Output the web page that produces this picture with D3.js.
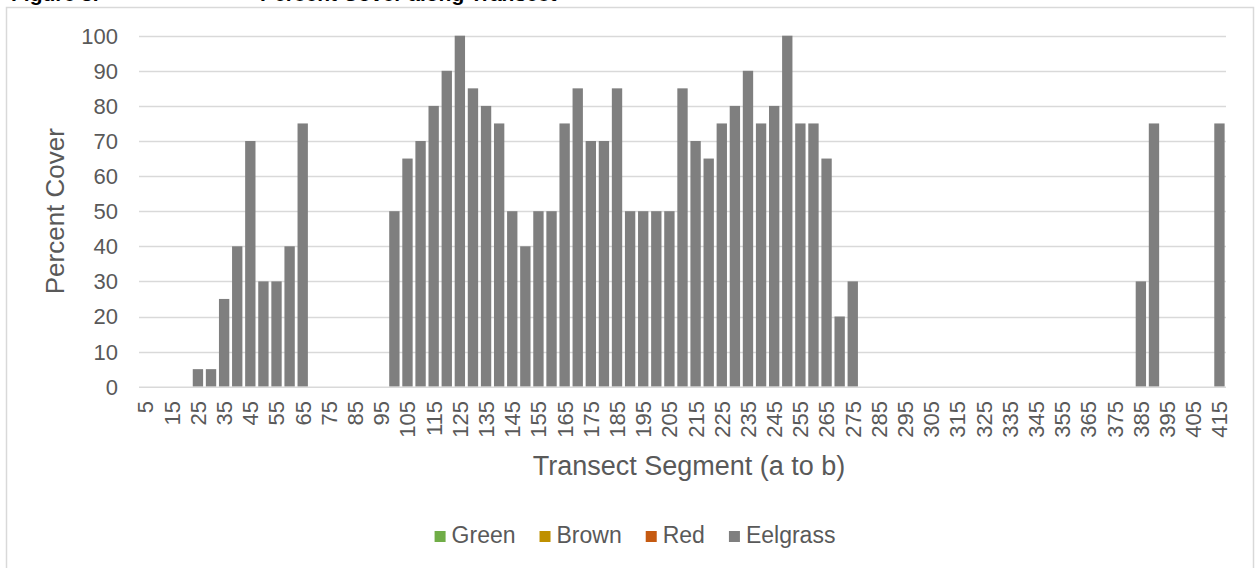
<!DOCTYPE html>
<html>
<head>
<meta charset="utf-8">
<script src="https://cdn.jsdelivr.net/npm/d3@7"></script>
<style>
  body { margin: 0; background: #ffffff; }
  svg { display: block; font-family: Arial, "Liberation Sans", sans-serif; }
</style>
</head>
<body>
<svg id="chart" width="1256" height="568"></svg>
<script>
// Transect segments (metres along transect a to b)
const segments = [
  5, 10, 15, 20, 25, 30, 35, 40, 45, 50, 55, 60, 65, 70, 75, 80, 85, 90, 95,
  100, 105, 110, 115, 120, 125, 130, 135, 140, 145, 150, 155, 160, 165, 170, 175, 180, 185, 190, 195,
  200, 205, 210, 215, 220, 225, 230, 235, 240, 245, 250, 255, 260, 265, 270, 275, 280, 285, 290, 295,
  300, 305, 310, 315, 320, 325, 330, 335, 340, 345, 350, 355, 360, 365, 370, 375, 380, 385, 390, 395,
  400, 405, 410, 415
];

// Labelled ticks on the category axis
const xTickLabels = [
  5, 15, 25, 35, 45, 55, 65, 75, 85, 95, 105, 115, 125, 135, 145, 155, 165, 175, 185, 195, 205,
  215, 225, 235, 245, 255, 265, 275, 285, 295, 305, 315, 325, 335, 345, 355, 365, 375, 385, 395,
  405, 415
];

const yTicks = [0, 10, 20, 30, 40, 50, 60, 70, 80, 90, 100];

// Percent cover per segment
const green = [
  0, 0, 0, 0, 0, 0, 0, 0, 0, 0, 0, 0, 0, 0, 0, 0, 0, 0, 0,
  0, 0, 0, 0, 0, 0, 0, 0, 0, 0, 0, 0, 0, 0, 0, 0, 0, 0, 0, 0,
  0, 0, 0, 0, 0, 0, 0, 0, 0, 0, 0, 0, 0, 0, 0, 0, 0, 0, 0, 0,
  0, 0, 0, 0, 0, 0, 0, 0, 0, 0, 0, 0, 0, 0, 0, 0, 0, 0, 0, 0,
  0, 0, 0, 0
];
const brown = [
  0, 0, 0, 0, 0, 0, 0, 0, 0, 0, 0, 0, 0, 0, 0, 0, 0, 0, 0,
  0, 0, 0, 0, 0, 0, 0, 0, 0, 0, 0, 0, 0, 0, 0, 0, 0, 0, 0, 0,
  0, 0, 0, 0, 0, 0, 0, 0, 0, 0, 0, 0, 0, 0, 0, 0, 0, 0, 0, 0,
  0, 0, 0, 0, 0, 0, 0, 0, 0, 0, 0, 0, 0, 0, 0, 0, 0, 0, 0, 0,
  0, 0, 0, 0
];
const red = [
  0, 0, 0, 0, 0, 0, 0, 0, 0, 0, 0, 0, 0, 0, 0, 0, 0, 0, 0,
  0, 0, 0, 0, 0, 0, 0, 0, 0, 0, 0, 0, 0, 0, 0, 0, 0, 0, 0, 0,
  0, 0, 0, 0, 0, 0, 0, 0, 0, 0, 0, 0, 0, 0, 0, 0, 0, 0, 0, 0,
  0, 0, 0, 0, 0, 0, 0, 0, 0, 0, 0, 0, 0, 0, 0, 0, 0, 0, 0, 0,
  0, 0, 0, 0
];
const eelgrass = [
  0, 0, 0, 0, 5, 5, 25, 40, 70, 30, 30, 40, 75, 0, 0, 0, 0, 0, 0,
  50, 65, 70, 80, 90, 100, 85, 80, 75, 50, 40, 50, 50, 75, 85, 70, 70, 85, 50, 50,
  50, 50, 85, 70, 65, 75, 80, 90, 75, 80, 100, 75, 75, 65, 20, 30, 0, 0, 0, 0,
  0, 0, 0, 0, 0, 0, 0, 0, 0, 0, 0, 0, 0, 0, 0, 0, 0, 30, 75, 0,
  0, 0, 0, 75
];

const seriesNames = ["Green", "Brown", "Red", "Eelgrass"];
const seriesValues = [green, brown, red, eelgrass];
const seriesColors = ["#70ad47", "#bf9000", "#c55a11", "#7f7f7f"];

const textColor = "#595959";
const gridColor = "#d9d9d9";

const svg = d3.select("#chart");
const plot = { left: 139, right: 1226, top: 35.7, bottom: 386.7 };

// Chart area border
svg.append("rect")
  .attr("x", 6.5).attr("y", 7.5)
  .attr("width", 1247).attr("height", 620)
  .attr("fill", "#ffffff")
  .attr("stroke", gridColor).attr("stroke-width", 1.5);

// Figure caption, running along the top edge above the frame
svg.append("text")
  .attr("x", 11).attr("y", 0.5)
  .attr("font-size", 21).attr("font-weight", "bold").attr("fill", "#000")
  .text("Figure 3.");
svg.append("text")
  .attr("x", 260).attr("y", 0.5)
  .attr("font-size", 21).attr("font-weight", "bold").attr("fill", "#000")
  .text("Percent Cover along Transect");

// Scales
const x = d3.scaleBand()
  .domain(segments)
  .range([plot.left, plot.right])
  .paddingInner(0.21)
  .paddingOuter(0.105);

const y = d3.scaleLinear()
  .domain([0, 100])
  .range([plot.bottom, plot.top]);

// Horizontal gridlines
svg.append("g")
  .selectAll("line")
  .data(yTicks.filter(t => t > 0))
  .join("line")
  .attr("x1", plot.left).attr("x2", plot.right)
  .attr("y1", d => Math.round(y(d)) + 0.5)
  .attr("y2", d => Math.round(y(d)) + 0.5)
  .attr("stroke", gridColor).attr("stroke-width", 1.3);

// Stacked columns
const table = segments.map((s, i) => {
  const row = { segment: s };
  seriesNames.forEach((name, k) => { row[name] = seriesValues[k][i]; });
  return row;
});
const stacked = d3.stack().keys(seriesNames)(table);

svg.append("g")
  .selectAll("g")
  .data(stacked)
  .join("g")
  .attr("fill", (d, i) => seriesColors[i])
  .selectAll("rect")
  .data(d => d.filter(p => p[1] - p[0] > 0))
  .join("rect")
  .attr("x", d => x(d.data.segment))
  .attr("width", x.bandwidth())
  .attr("y", d => y(d[1]))
  .attr("height", d => y(d[0]) - y(d[1]));

// Category axis line
svg.append("line")
  .attr("x1", plot.left).attr("x2", plot.right)
  .attr("y1", y(0) + 0.5).attr("y2", y(0) + 0.5)
  .attr("stroke", gridColor).attr("stroke-width", 1.6);

// Value axis labels
svg.append("g")
  .selectAll("text")
  .data(yTicks)
  .join("text")
  .attr("x", 118)
  .attr("y", d => y(d))
  .attr("dy", "0.36em")
  .attr("text-anchor", "end")
  .attr("font-size", 22)
  .attr("fill", textColor)
  .text(d => d);

// Category axis labels (rotated)
svg.append("g")
  .selectAll("text")
  .data(xTickLabels)
  .join("text")
  .attr("transform", d => `translate(${x(d) + x.bandwidth() / 2},401) rotate(-90)`)
  .attr("dy", "0.36em")
  .attr("text-anchor", "end")
  .attr("font-size", 22)
  .attr("fill", textColor)
  .text(d => d);

// Axis titles
svg.append("text")
  .attr("x", 689).attr("y", 475)
  .attr("text-anchor", "middle")
  .attr("font-size", 27)
  .attr("fill", textColor)
  .text("Transect Segment (a to b)");

svg.append("text")
  .attr("transform", `translate(64,${(plot.top + plot.bottom) / 2}) rotate(-90)`)
  .attr("text-anchor", "middle")
  .attr("font-size", 26)
  .attr("fill", textColor)
  .text("Percent Cover");

// Legend
const legend = svg.append("g");
const items = legend.selectAll("g")
  .data(seriesNames)
  .join("g");
items.append("rect")
  .attr("width", 11).attr("height", 11)
  .attr("y", 531)
  .attr("fill", (d, i) => seriesColors[i]);
items.append("text")
  .attr("y", 543)
  .attr("font-size", 23)
  .attr("fill", textColor)
  .text(d => d);

// Lay legend entries out left to right, centred under the plot
const widths = [];
items.select("text").each(function () { widths.push(this.getComputedTextLength()); });
const swatchGap = 6, itemGap = 24;
const total = d3.sum(widths) + widths.length * (11 + swatchGap) + (widths.length - 1) * itemGap;
let cursor = 635 - total / 2;
items.each(function (d, i) {
  const g = d3.select(this);
  g.select("rect").attr("x", cursor);
  g.select("text").attr("x", cursor + 11 + swatchGap);
  cursor += 11 + swatchGap + widths[i] + itemGap;
});
</script>
</body>
</html>
